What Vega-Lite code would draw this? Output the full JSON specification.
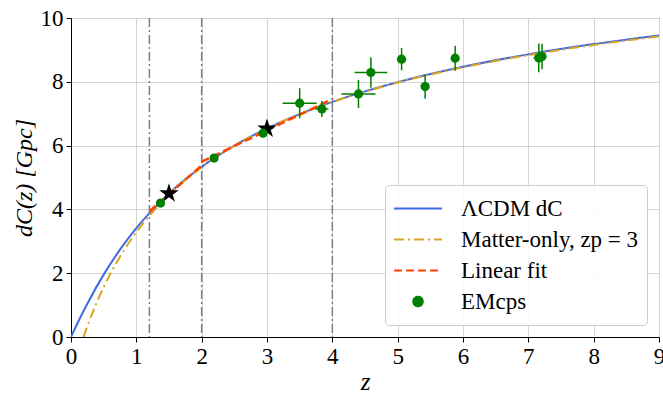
{
  "$schema": "https://vega.github.io/schema/vega-lite/v6.json",
  "width": 588,
  "height": 319,
  "autosize": {"type": "none"},
  "padding": {"left": 71, "top": 18, "right": 4, "bottom": 56},
  "background": "white",
  "datasets": {
    "lcdm": [
      {"series": "ΛCDM dC", "z": 0, "d": 0},
      {"series": "ΛCDM dC", "z": 0.125, "d": 0.542},
      {"series": "ΛCDM dC", "z": 0.25, "d": 1.045},
      {"series": "ΛCDM dC", "z": 0.5, "d": 1.955},
      {"series": "ΛCDM dC", "z": 0.75, "d": 2.738},
      {"series": "ΛCDM dC", "z": 1, "d": 3.41},
      {"series": "ΛCDM dC", "z": 1.25, "d": 3.992},
      {"series": "ΛCDM dC", "z": 1.5, "d": 4.498},
      {"series": "ΛCDM dC", "z": 1.75, "d": 4.942},
      {"series": "ΛCDM dC", "z": 2, "d": 5.334},
      {"series": "ΛCDM dC", "z": 2.5, "d": 5.997},
      {"series": "ΛCDM dC", "z": 3, "d": 6.536},
      {"series": "ΛCDM dC", "z": 3.5, "d": 6.987},
      {"series": "ΛCDM dC", "z": 4, "d": 7.37},
      {"series": "ΛCDM dC", "z": 4.5, "d": 7.7},
      {"series": "ΛCDM dC", "z": 5, "d": 7.988},
      {"series": "ΛCDM dC", "z": 6, "d": 8.47},
      {"series": "ΛCDM dC", "z": 7, "d": 8.86},
      {"series": "ΛCDM dC", "z": 8, "d": 9.182},
      {"series": "ΛCDM dC", "z": 9, "d": 9.455}
    ],
    "matter": [
      {"series": "Matter-only, zp = 3", "z": 0.19, "d": 0},
      {"series": "Matter-only, zp = 3", "z": 0.25, "d": 0.341},
      {"series": "Matter-only, zp = 3", "z": 0.375, "d": 0.995},
      {"series": "Matter-only, zp = 3", "z": 0.5, "d": 1.565},
      {"series": "Matter-only, zp = 3", "z": 0.75, "d": 2.516},
      {"series": "Matter-only, zp = 3", "z": 1, "d": 3.283},
      {"series": "Matter-only, zp = 3", "z": 1.25, "d": 3.918},
      {"series": "Matter-only, zp = 3", "z": 1.5, "d": 4.456},
      {"series": "Matter-only, zp = 3", "z": 1.75, "d": 4.918},
      {"series": "Matter-only, zp = 3", "z": 2, "d": 5.321},
      {"series": "Matter-only, zp = 3", "z": 2.5, "d": 5.994},
      {"series": "Matter-only, zp = 3", "z": 3, "d": 6.536},
      {"series": "Matter-only, zp = 3", "z": 3.5, "d": 6.985},
      {"series": "Matter-only, zp = 3", "z": 4, "d": 7.365},
      {"series": "Matter-only, zp = 3", "z": 5, "d": 7.977},
      {"series": "Matter-only, zp = 3", "z": 6, "d": 8.453},
      {"series": "Matter-only, zp = 3", "z": 7, "d": 8.836},
      {"series": "Matter-only, zp = 3", "z": 8, "d": 9.154},
      {"series": "Matter-only, zp = 3", "z": 9, "d": 9.422}
    ],
    "linfit": [
      {"series": "Linear fit", "seg": 1, "z": 1.2, "d": 3.94},
      {"series": "Linear fit", "seg": 1, "z": 2, "d": 5.376},
      {"series": "Linear fit", "seg": 2, "z": 2, "d": 5.494},
      {"series": "Linear fit", "seg": 2, "z": 4, "d": 7.458}
    ],
    "vlines": [{"z": 1.2}, {"z": 2}, {"z": 4}],
    "stars": [{"z": 1.5, "d": 4.5}, {"z": 3.0, "d": 6.53}],
    "emcps": [
      {"series": "EMcps", "z": 1.37, "d": 4.2, "zlo": 1.34, "zhi": 1.4, "dlo": 4.12, "dhi": 4.28},
      {"series": "EMcps", "z": 2.19, "d": 5.61, "zlo": 2.15, "zhi": 2.23, "dlo": 5.51, "dhi": 5.71},
      {"series": "EMcps", "z": 2.94, "d": 6.39, "zlo": 2.9, "zhi": 2.98, "dlo": 6.29, "dhi": 6.49},
      {"series": "EMcps", "z": 3.5, "d": 7.33, "zlo": 3.24, "zhi": 3.76, "dlo": 6.86, "dhi": 7.8},
      {"series": "EMcps", "z": 3.84, "d": 7.15, "zlo": 3.74, "zhi": 3.94, "dlo": 6.9, "dhi": 7.4},
      {"series": "EMcps", "z": 4.4, "d": 7.62, "zlo": 4.14, "zhi": 4.66, "dlo": 7.18, "dhi": 8.06},
      {"series": "EMcps", "z": 4.59, "d": 8.29, "zlo": 4.34, "zhi": 4.84, "dlo": 7.81, "dhi": 8.77},
      {"series": "EMcps", "z": 5.06, "d": 8.71, "zlo": 5.0, "zhi": 5.12, "dlo": 8.36, "dhi": 9.06},
      {"series": "EMcps", "z": 5.42, "d": 7.85, "zlo": 5.36, "zhi": 5.48, "dlo": 7.47, "dhi": 8.23},
      {"series": "EMcps", "z": 5.88, "d": 8.74, "zlo": 5.83, "zhi": 5.93, "dlo": 8.35, "dhi": 9.13},
      {"series": "EMcps", "z": 7.16, "d": 8.75, "zlo": 7.08, "zhi": 7.24, "dlo": 8.3, "dhi": 9.2},
      {"series": "EMcps", "z": 7.21, "d": 8.79, "zlo": 7.15, "zhi": 7.27, "dlo": 8.39, "dhi": 9.19}
    ]
  },
  "encoding": {
    "x": {
      "field": "z", "type": "quantitative",
      "scale": {"domain": [0, 9], "nice": false, "zero": false},
      "axis": {"values": [0, 1, 2, 3, 4, 5, 6, 7, 8, 9], "title": "z", "titleFontStyle": "italic", "labelFlush": false, "titlePadding": 1,
        "labelFont": "Liberation Serif", "labelFontSize": 23, "labelColor": "black", "labelPadding": 3,
        "titleFont": "Liberation Serif", "titleFontSize": 25, "titleFontWeight": "normal", "titleColor": "black",
        "domainColor": "black", "tickColor": "black", "tickSize": 5, "gridColor": "#d4d4d4"}
    },
    "y": {
      "field": "d", "type": "quantitative",
      "scale": {"domain": [0, 10], "nice": false, "zero": false},
      "axis": {"values": [0, 2, 4, 6, 8, 10], "title": "dC(z) [Gpc]", "titleFontStyle": "italic", "titlePadding": 4,
        "labelFont": "Liberation Serif", "labelFontSize": 23, "labelColor": "black", "labelPadding": 3,
        "titleFont": "Liberation Serif", "titleFontSize": 24, "titleFontWeight": "normal", "titleColor": "black",
        "domainColor": "black", "tickColor": "black", "tickSize": 5, "gridColor": "#d4d4d4"}
    }
  },
  "layer": [
    {
      "data": {"name": "vlines"},
      "mark": {"type": "rule", "color": "#7f7f7f", "strokeWidth": 1.5, "strokeDash": [9, 3, 2, 3]},
      "encoding": {"x": {"field": "z", "type": "quantitative"}, "y": null}
    },
    {
      "data": {"name": "lcdm"},
      "mark": {"type": "line", "strokeWidth": 2, "interpolate": "monotone", "clip": true},
      "encoding": {
        "color": {
          "field": "series", "type": "nominal",
          "scale": {
            "domain": ["ΛCDM dC", "Matter-only, zp = 3", "Linear fit", "EMcps"],
            "range": ["#4169E1", "#DAA520", "#FF4500", "#008000"]
          },
          "legend": {
            "title": null,
            "orient": "bottom-right",
            "offset": 12,
            "padding": 8,
            "fillColor": "rgba(255,255,255,0.85)",
            "strokeColor": "#cccccc",
            "cornerRadius": 4,
            "labelFont": "Liberation Serif",
            "labelFontSize": 23,
            "labelColor": "black",
            "labelLimit": 400,
            "labelOffset": 18,
            "rowPadding": 0,
            "clipHeight": 31,
            "symbolStrokeWidth": 2,
            "encode": {
              "symbols": {
                "update": {
                  "shape": {"signal": "datum.value === 'EMcps' ? 'circle' : 'stroke'"},
                  "size": {"signal": "datum.value === 'EMcps' ? 90 : 2300"},
                  "strokeDash": {"signal": "datum.value === 'Matter-only, zp = 3' ? [10, 4, 2, 4] : (datum.value === 'Linear fit' ? [8, 4] : [1, 0])"},
                  "fill": {"signal": "datum.value === 'EMcps' ? '#008000' : 'transparent'"},
                  "stroke": {"signal": "datum.value === 'EMcps' ? '#008000' : (datum.value === 'Linear fit' ? '#FF4500' : (datum.value === 'Matter-only, zp = 3' ? '#DAA520' : '#4169E1'))"},
                  "strokeWidth": {"value": 2},
                  "opacity": {"value": 1}
                }
              }
            }
          }
        }
      }
    },
    {
      "data": {"name": "matter"},
      "mark": {"type": "line", "strokeWidth": 2, "interpolate": "monotone", "strokeDash": [10, 4, 2, 4], "clip": true},
      "encoding": {"color": {"field": "series", "type": "nominal"}}
    },
    {
      "data": {"name": "linfit"},
      "mark": {"type": "line", "strokeWidth": 2.5, "strokeDash": [8, 4], "clip": true},
      "encoding": {"color": {"field": "series", "type": "nominal"}, "detail": {"field": "seg", "type": "nominal"}}
    },
    {
      "data": {"name": "stars"},
      "mark": {"type": "point", "filled": true, "color": "black", "opacity": 1, "size": 420,
        "shape": "M0,-1L0.2245,-0.309L0.9511,-0.309L0.3633,0.118L0.5878,0.809L0,0.382L-0.5878,0.809L-0.3633,0.118L-0.9511,-0.309L-0.2245,-0.309Z"},
      "encoding": {}
    },
    {
      "data": {"name": "emcps"},
      "mark": {"type": "rule", "color": "#008000", "strokeWidth": 1.5},
      "encoding": {"x": {"field": "zlo", "type": "quantitative"}, "x2": {"field": "zhi"}}
    },
    {
      "data": {"name": "emcps"},
      "mark": {"type": "rule", "color": "#008000", "strokeWidth": 1.5},
      "encoding": {"y": {"field": "dlo", "type": "quantitative"}, "y2": {"field": "dhi"}}
    },
    {
      "data": {"name": "emcps"},
      "mark": {"type": "point", "filled": true, "opacity": 1, "size": 85},
      "encoding": {"color": {"field": "series", "type": "nominal"}}
    }
  ],
  "config": {
    "font": "Liberation Serif",
    "view": {"stroke": "black", "strokeWidth": 1},
    "style": {"guide-label": {"font": "Liberation Serif", "fontSize": 23, "fill": "black"}, "guide-title": {"font": "Liberation Serif", "fontSize": 24, "fill": "black"}}
  }
}
